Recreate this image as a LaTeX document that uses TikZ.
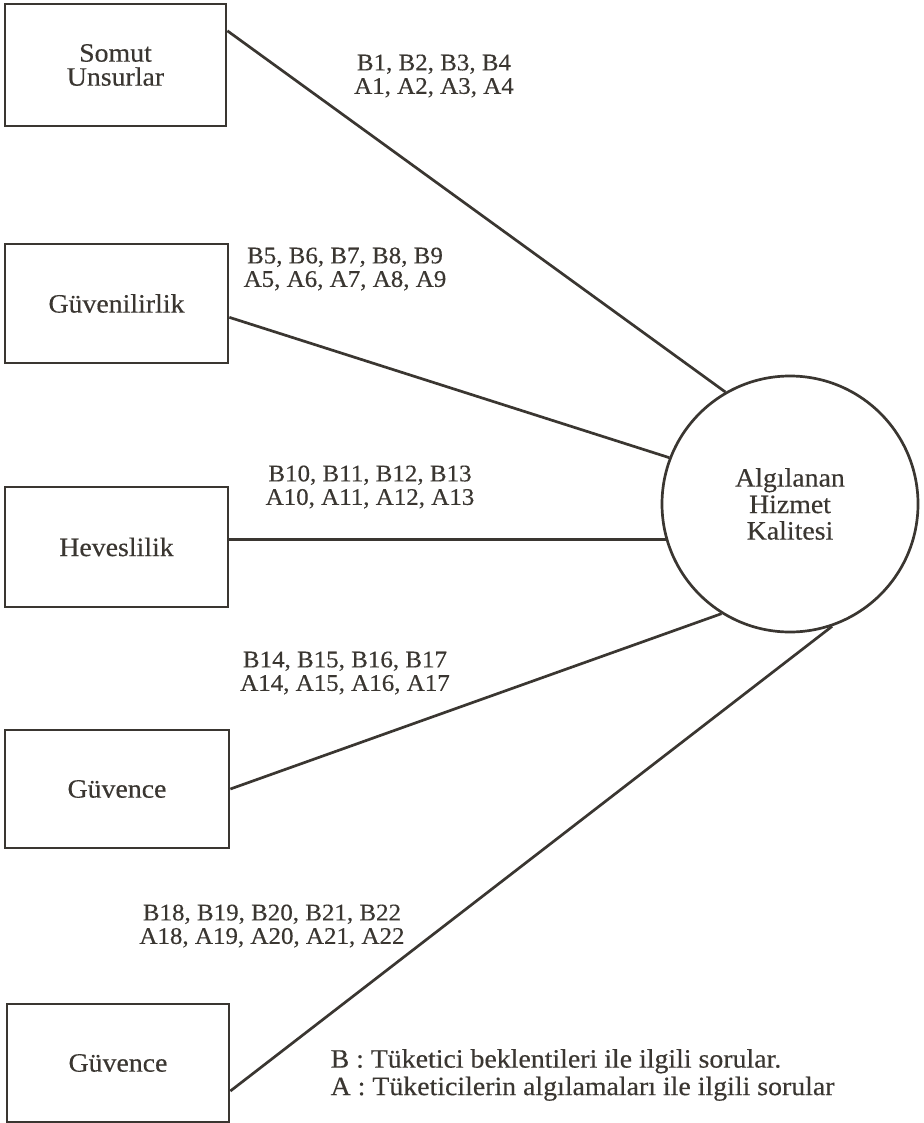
\documentclass[tikz,border=0pt]{standalone}
\usepackage{fontspec}
\setmainfont{Liberation Serif}[FakeStretch=1.05, FakeBold=0.35]
\definecolor{murekkep}{HTML}{3A3631}

\begin{document}
\begin{tikzpicture}[x=1pt, y=-1pt, line width=2.7pt, color=murekkep,
  kutu/.style = {draw, rectangle, inner sep=0pt, font=\fontsize{26.5}{24}\selectfont, align=center},
  daire/.style = {draw, circle, minimum size=256pt, inner sep=0pt, font=\fontsize{26.5}{26.5}\selectfont, align=center},
  etiket/.style = {font=\fontsize{23.8}{23.5}\selectfont, align=center},
  aciklama/.style = {font=\fontsize{26.5}{27.5}\selectfont, align=left, anchor=west}]
\useasboundingbox (0,0) rectangle (923,1123);
\node[kutu, minimum width=221pt, minimum height=122pt] (1) at (115.5,65) {Somut\\Unsurlar};
\node[kutu, minimum width=223pt, minimum height=119pt] (2) at (116.5,303.5) {Güvenilirlik};
\node[kutu, minimum width=223pt, minimum height=120pt] (3) at (116.5,547) {Heveslilik};
\node[kutu, minimum width=224pt, minimum height=118pt] (4) at (117,789) {Güvence};
\node[kutu, minimum width=222pt, minimum height=118pt] (5) at (118,1063) {Güvence};
\node[daire] (hk) at (790,504) {Algılanan\\Hizmet\\Kalitesi};
\node[etiket] (e1) at (434,76) {B1, B2, B3, B4\\A1, A2, A3, A4};
\node[etiket] (e2) at (345,269) {B5, B6, B7, B8, B9\\A5, A6, A7, A8, A9};
\node[etiket] (e3) at (370,487) {B10, B11, B12, B13\\A10, A11, A12, A13};
\node[etiket] (e4) at (345,673) {B14, B15, B16, B17\\A14, A15, A16, A17};
\node[etiket] (e5) at (272,926) {B18, B19, B20, B21, B22\\A18, A19, A20, A21, A22};
\node[aciklama] (ac) at (326,1075) {B : Tüketici beklentileri ile ilgili sorular.\\A : Tüketicilerin algılamaları ile ilgili sorular};
\draw (1.17.6) -- (hk.120.4);
\draw (2.353.1) -- (hk.159);
\draw (hk.196.3) -- (hk.196.3 -| 3.east);
\draw (4.east) -- (hk.238.5);
\draw (5.346.3) -- (hk.289);
\end{tikzpicture}
\end{document}
